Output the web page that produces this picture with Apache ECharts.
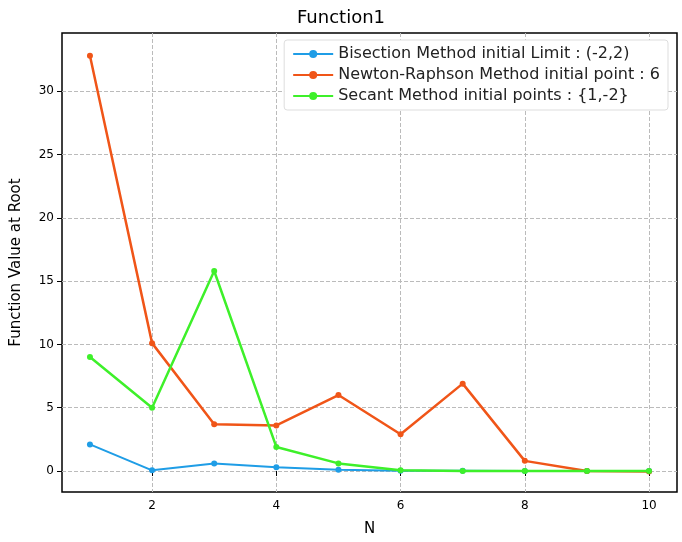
<!DOCTYPE html>
<html lang="en">
<head>
<meta charset="UTF-8">
<title>Function1</title>
<script src="https://cdn.jsdelivr.net/npm/echarts@6/dist/echarts.min.js"></script>
</head>
<body style="margin:0">
<div id="main" style="width:682px;height:542px;"></div>
<script>
var nValues = [1, 2, 3, 4, 5, 6, 7, 8, 9, 10];
var bisection = [2.1, 0.05, 0.6, 0.3, 0.1, 0.02, 0.01, 0, 0, 0];
var newton = [32.8, 10.1, 3.7, 3.6, 6.0, 2.9, 6.9, 0.8, 0, -0.05];
var secant = [9.0, 5.0, 15.8, 1.9, 0.6, 0.05, 0, 0, 0, 0];
var xTicks = [2, 4, 6, 8, 10];
var yTicks = [0, 5, 10, 15, 20, 25, 30];

function pairs(vals) {
    return nValues.map(function (n, i) { return [n, vals[i]]; });
}

var font = 'DejaVu Sans';
var myChart = echarts.init(document.getElementById('main'));
var grid = {show: true, lineStyle: {type: 'dashed', color: '#bbb'}};

var option = {
    animation: false,
    textStyle: {fontFamily: font},
    title: {text: 'Function1', left: 'center', top: 4,
        textStyle: {fontFamily: font, fontSize: 18, fontWeight: 'normal', color: '#000'}},
    legend: {
        orient: 'vertical', right: 14, top: 40, itemGap: 5, itemWidth: 40, itemHeight: 10,
        backgroundColor: '#fff', borderColor: '#ddd', borderWidth: 1, borderRadius: 3, padding: [6, 8],
        textStyle: {fontFamily: font, fontSize: 16, color: '#222'},
        data: ['Bisection Method initial Limit : (-2,2)', 'Newton-Raphson Method initial point : 6', 'Secant Method initial points : {1,-2}']
    },
    grid: {left: 62, right: 5, top: 33, bottom: 50, show: true, borderColor: '#000', borderWidth: 1.5},
    xAxis: {
        type: 'value', min: 0.55, max: 10.45, name: 'N', nameLocation: 'middle', nameGap: 30,
        nameTextStyle: {fontSize: 15, color: '#000'},
        axisLine: {show: false},
        axisTick: {customValues: xTicks, lineStyle: {color: '#000'}},
        axisLabel: {customValues: xTicks, color: '#000', fontSize: 12},
        splitLine: grid
    },
    yAxis: {
        type: 'value', min: -1.66, max: 34.6, name: 'Function Value at Root', nameLocation: 'middle', nameGap: 38,
        nameTextStyle: {fontSize: 15, color: '#000'},
        axisLine: {show: false},
        axisTick: {customValues: yTicks, lineStyle: {color: '#000'}},
        axisLabel: {customValues: yTicks, color: '#000', fontSize: 12},
        splitLine: grid
    },
    series: [
        {name: 'Bisection Method initial Limit : (-2,2)', type: 'line', data: pairs(bisection), color: '#1f9de6',
            symbol: 'circle', symbolSize: 6, lineStyle: {width: 2}, z: 1},
        {name: 'Newton-Raphson Method initial point : 6', type: 'line', data: pairs(newton), color: '#f05518',
            symbol: 'circle', symbolSize: 6, lineStyle: {width: 2.5}, z: 2},
        {name: 'Secant Method initial points : {1,-2}', type: 'line', data: pairs(secant), color: '#3ef02a',
            symbol: 'circle', symbolSize: 6, lineStyle: {width: 2.5}, z: 3}
    ]
};
myChart.setOption(option);
</script>
</body>
</html>
